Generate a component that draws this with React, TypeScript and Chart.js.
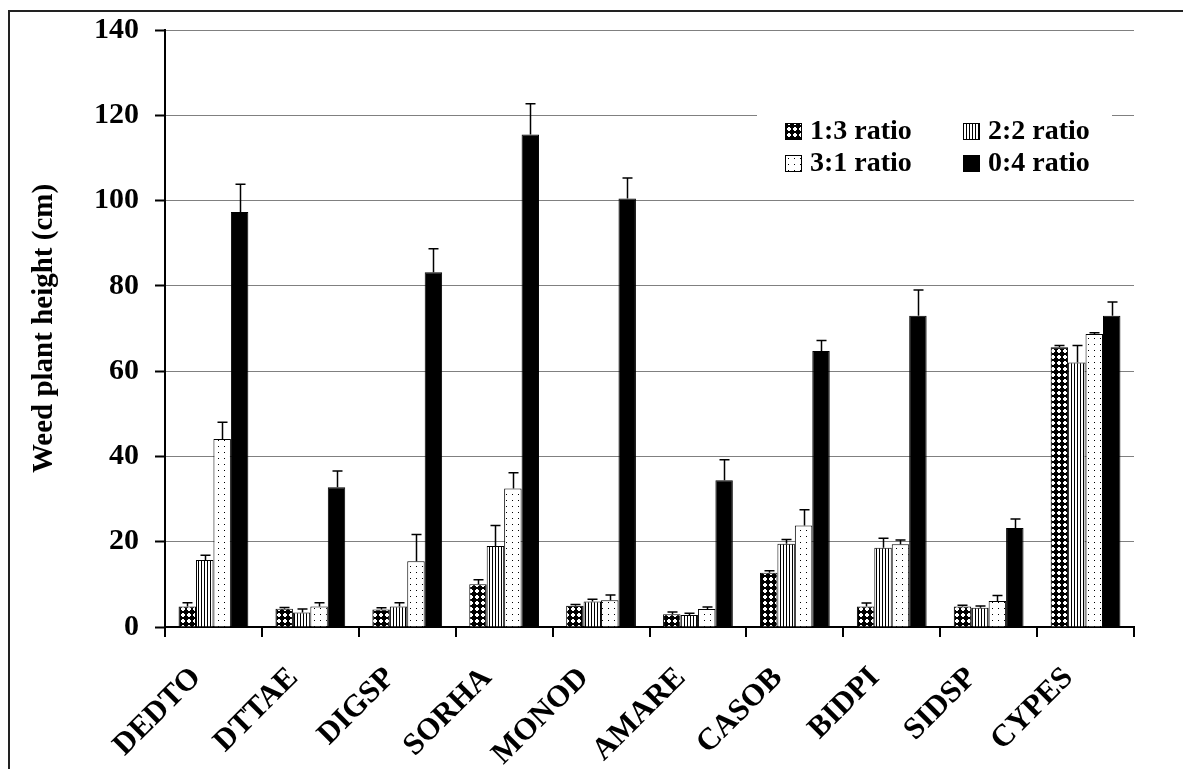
import React, { useEffect, useRef } from "react";
import { Chart, registerables } from "chart.js";

Chart.register(...registerables);

const categories = ["DEDTO", "DTTAE", "DIGSP", "SORHA", "MONOD", "AMARE", "CASOB", "BIDPI", "SIDSP", "CYPES"];
const seriesNames = ["1:3 ratio", "2:2 ratio", "3:1 ratio", "0:4 ratio"];

const ratio13 = [4.8, 4.3, 4.1, 10.0, 5.0, 3.0, 12.7, 4.8, 4.8, 65.6];
const ratio22 = [15.7, 3.4, 4.8, 19.0, 6.0, 2.8, 19.5, 18.6, 4.5, 62.0];
const ratio31 = [44.1, 4.8, 15.4, 32.5, 6.3, 4.2, 23.8, 19.4, 6.1, 68.7];
const ratio04 = [97.3, 32.8, 83.2, 115.5, 100.5, 34.4, 64.7, 73.0, 23.2, 73.0];

const err13 = [0.9, 0.3, 0.4, 1.1, 0.3, 0.5, 0.5, 0.8, 0.3, 0.4];
const err22 = [1.1, 0.8, 0.9, 4.8, 0.5, 0.4, 1.0, 2.2, 0.4, 4.0];
const err31 = [3.9, 0.9, 6.3, 3.7, 1.2, 0.5, 3.7, 1.0, 1.3, 0.3];
const err04 = [6.5, 3.8, 5.5, 7.2, 4.8, 4.8, 2.5, 6.0, 2.1, 3.2];

const yTicks = [0, 20, 40, 60, 80, 100, 120, 140];

const FONT = "'Liberation Serif', 'Times New Roman', serif";

function makePattern(kind: string): CanvasPattern | string {
  if (kind === "solid") return "#000";
  const c = document.createElement("canvas");
  const g = c.getContext("2d")!;
  if (kind === "checker") {
    c.width = 6; c.height = 6;
    g.fillStyle = "#000"; g.fillRect(0, 0, 6, 6);
    g.fillStyle = "#fff";
    g.fillRect(2, 1, 2, 4);
    g.fillRect(1, 2, 4, 2);
  } else if (kind === "vstripe") {
    c.width = 3; c.height = 3;
    g.fillStyle = "#fff"; g.fillRect(0, 0, 3, 3);
    g.fillStyle = "#000"; g.fillRect(0, 0, 1, 3);
  } else {
    c.width = 6; c.height = 6;
    g.fillStyle = "#fff"; g.fillRect(0, 0, 6, 6);
    g.fillStyle = "#000"; g.fillRect(2, 2, 1, 1);
  }
  return g.createPattern(c, "repeat")!;
}

export default function App() {
  const ref = useRef<HTMLCanvasElement | null>(null);
  useEffect(() => {
    const canvas = ref.current!;
    const fills = [makePattern("checker"), makePattern("vstripe"), makePattern("dots"), makePattern("solid")];
    const values = [ratio13, ratio22, ratio31, ratio04];
    const errs = [err13, err22, err31, err04];

    const framePlugin = {
      id: "frame",
      beforeDraw(chart: any) {
        const ctx = chart.ctx;
        ctx.save();
        ctx.fillStyle = "#fff";
        ctx.fillRect(0, 0, chart.width, chart.height);
        ctx.restore();
      },
      afterDraw(chart: any) {
        const ctx = chart.ctx;
        ctx.save();
        ctx.strokeStyle = "#222";
        ctx.lineWidth = 2;
        ctx.strokeRect(9, 11, chart.width + 20, chart.height + 20);
        // legend
        const lx = 757, ly = 95, lw = 355, lh = 92;
        ctx.fillStyle = "#fff";
        ctx.fillRect(lx, ly, lw, lh);
        const pos = [
          [785, 131], [963, 131], [785, 163], [963, 163],
        ];
        ctx.font = `bold 28px ${FONT}`;
        ctx.textBaseline = "middle";
        ctx.textAlign = "left";
        for (let i = 0; i < 4; i++) {
          const [x, y] = pos[i];
          ctx.fillStyle = fills[i] as any;
          ctx.fillRect(x, y - 8, 17, 17);
          ctx.strokeStyle = "#000";
          ctx.lineWidth = 1;
          ctx.strokeRect(x + 0.5, y - 7.5, 16, 16);
          ctx.fillStyle = "#000";
          ctx.fillText(seriesNames[i], x + 25, y + 1);
        }
        ctx.restore();
      },
      afterDatasetsDraw(chart: any) {
        const ctx = chart.ctx;
        const ys = chart.scales.y;
        ctx.save();
        ctx.strokeStyle = "#000";
        ctx.lineWidth = 1.5;
        for (let d = 0; d < 4; d++) {
          const meta = chart.getDatasetMeta(d);
          meta.data.forEach((el: any, j: number) => {
            const top = ys.getPixelForValue(values[d][j] + errs[d][j]);
            const x = Math.round(el.x) + 0.5;
            ctx.beginPath();
            ctx.moveTo(x, el.y);
            ctx.lineTo(x, top);
            ctx.moveTo(x - 5, top);
            ctx.lineTo(x + 5, top);
            ctx.stroke();
          });
        }
        ctx.restore();
      },
    };

    const chart = new Chart(canvas, {
      type: "bar",
      data: {
        labels: categories,
        datasets: seriesNames.map((name, i) => ({
          label: name,
          data: values[i],
          backgroundColor: fills[i] as any,
          borderColor: "#000",
          borderWidth: 1,
          categoryPercentage: 0.72,
          barPercentage: 1.0,
        })),
      },
      options: {
        responsive: false,
        animation: false,
        devicePixelRatio: 1,
        layout: { padding: { top: 30, right: 49, left: 0, bottom: 0 } },
        plugins: { legend: { display: false }, tooltip: { enabled: false } },
        scales: {
          x: {
            grid: { offset: true, drawOnChartArea: false, drawTicks: true, tickLength: 10, color: "#000", tickColor: "#000", tickWidth: 2, lineWidth: 2 },
            border: { color: "#000", width: 2 },
            ticks: { font: { family: FONT, size: 31, weight: "bold" }, color: "#000", minRotation: 45, maxRotation: 45, padding: 23, labelOffset: -17, autoSkip: false },
            afterFit(s: any) { s.height = 142; },
          },
          y: {
            min: 0,
            max: 140,
            afterBuildTicks(s: any) { s.ticks = yTicks.map((v) => ({ value: v })); },
            ticks: { font: { family: FONT, size: 30, weight: "bold", lineHeight: 0.8 }, color: "#000", padding: 16 },
            grid: { color: "#808080", lineWidth: 1, tickColor: "#000", tickWidth: 2, tickLength: 10 },
            border: { color: "#000", width: 2 },
            title: { display: true, text: "Weed plant height (cm)", font: { family: FONT, size: 29, weight: "bold" }, color: "#000", padding: { top: 27, bottom: 0 } },
            afterFit(s: any) { s.width = 165; },
          },
        },
      },
      plugins: [framePlugin],
    });
    return () => chart.destroy();
  }, []);
  return (
    <div style={{ position: "absolute", left: 0, top: 0, width: 1183, height: 769 }}>
      <canvas ref={ref} width={1183} height={769} style={{ display: "block" }} />
    </div>
  );
}
